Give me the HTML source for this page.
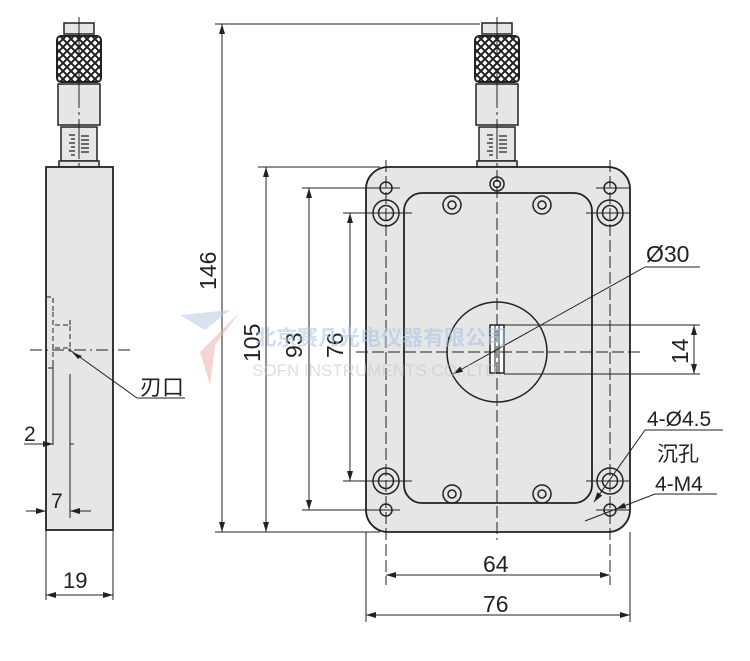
<!DOCTYPE html>
<html><head><meta charset="utf-8"><style>
html,body{margin:0;padding:0;background:#fff}
svg{display:block}
text{font-family:"Liberation Sans","Noto Sans CJK SC",sans-serif;fill:#222}
</style></head><body>
<svg width="750" height="661" viewBox="0 0 750 661" xmlns="http://www.w3.org/2000/svg">
<defs>
<pattern id="kn" width="8" height="8" patternUnits="userSpaceOnUse">
<rect width="8" height="8" fill="#fff"/>
<path d="M0 0L8 8M8 0L0 8" stroke="#222" stroke-width="2"/>
</pattern>
<marker id="a" viewBox="0 0 10 6" refX="10" refY="3" markerWidth="10" markerHeight="6" orient="auto-start-reverse" markerUnits="userSpaceOnUse"><path d="M0 0L10 3L0 6z" fill="#222"/></marker>
<g id="mic">
<rect x="-15" y="0" width="30" height="11" fill="#e6e6e6" stroke="#222" stroke-width="1.5"/>
<rect x="-22" y="13" width="44" height="46" rx="4" fill="url(#kn)" stroke="#222" stroke-width="2"/>
<rect x="-21" y="61" width="42" height="41" fill="#e6e6e6" stroke="#222" stroke-width="1.5"/>
<rect x="-18" y="104" width="36" height="34" fill="#e6e6e6" stroke="#222" stroke-width="1.5"/>
<path d="M-10 112h6M-8 116h4M-10 120h6M-8 124h4M-10 128h6M-8 132h4M2 113h8M2 117h8M2 121h8M2 125h8M2 129h8" stroke="#222" stroke-width="1.2"/>
<rect x="-20" y="138" width="40" height="6" fill="#e6e6e6" stroke="#222" stroke-width="1.5"/>
<line x1="0" y1="-6" x2="0" y2="150" stroke="#222" stroke-width="1" stroke-dasharray="40 4 3 4"/>
</g>
</defs>

<!-- left view -->
<use href="#mic" x="79" y="23"/>
<rect x="46" y="167" width="67" height="363" fill="#e6e6e6" stroke="#222" stroke-width="1.8"/>
<g stroke="#222" stroke-width="1" fill="none">
<path d="M46 297h7v15" stroke-dasharray="5 3"/>
<path d="M53 312v56h-7" stroke-dasharray="5 3"/>
<path d="M55 325h15v23h-15" stroke-dasharray="5 3"/>
<path d="M70 325v-5M70 348v4" />
<line x1="53" y1="360" x2="53" y2="445"/>
<line x1="70" y1="374" x2="70" y2="518"/>
<line x1="30" y1="350" x2="130" y2="350" stroke-dasharray="12 4 2 4"/>
<line x1="70" y1="350" x2="137" y2="398"/>
<line x1="137" y1="398" x2="185" y2="398"/>
<line x1="24" y1="444" x2="53" y2="444" marker-end="url(#a)"/>
<line x1="70" y1="444" x2="74" y2="444"/>
<line x1="26" y1="511" x2="46" y2="511" marker-end="url(#a)"/>
<line x1="70" y1="511" x2="91" y2="511" marker-start="url(#a)"/>
<line x1="46" y1="530" x2="46" y2="600"/>
<line x1="113" y1="530" x2="113" y2="600"/>
<line x1="46" y1="595" x2="113" y2="595" marker-start="url(#a)" marker-end="url(#a)"/>
</g>
<path d="M72 352l10 4l-4 3z" fill="#222"/>
<text x="140" y="395" font-size="22">刃口</text>
<text x="24" y="441" font-size="21">2</text>
<text x="51" y="508" font-size="21">7</text>
<text x="63" y="588" font-size="22">19</text>

<!-- vertical dims -->
<g stroke="#222" stroke-width="1" fill="none">
<line x1="215" y1="24" x2="480" y2="24"/>
<line x1="215" y1="532" x2="380" y2="532"/>
<line x1="222" y1="24" x2="222" y2="532" marker-start="url(#a)" marker-end="url(#a)"/>
<line x1="258" y1="167" x2="380" y2="167"/>
<line x1="266" y1="167" x2="266" y2="532" marker-start="url(#a)" marker-end="url(#a)"/>
<line x1="302" y1="188" x2="380" y2="188"/>
<line x1="302" y1="510" x2="380" y2="510"/>
<line x1="309" y1="188" x2="309" y2="510" marker-start="url(#a)" marker-end="url(#a)"/>
<line x1="343" y1="213" x2="375" y2="213"/>
<line x1="343" y1="481" x2="375" y2="481"/>
<line x1="350" y1="213" x2="350" y2="481" marker-start="url(#a)" marker-end="url(#a)"/>
</g>
<text transform="translate(216,290) rotate(-90)" font-size="23">146</text>
<text transform="translate(260,362) rotate(-90)" font-size="23">105</text>
<text transform="translate(302,358) rotate(-90)" font-size="23">93</text>
<text transform="translate(343,358) rotate(-90)" font-size="23">76</text>

<!-- right view -->
<use href="#mic" x="497" y="23"/>
<rect x="366" y="167" width="264" height="365" rx="22" fill="#e6e6e6" stroke="#222" stroke-width="1.8"/>
<rect x="404" y="193" width="188" height="310" rx="18" fill="#e6e6e6" stroke="#222" stroke-width="1.8"/>
<g stroke="#222" stroke-width="1.5" fill="none">
<circle cx="497" cy="184" r="7"/><circle cx="497" cy="184" r="3.5"/>
<circle cx="386" cy="188" r="6"/><circle cx="610" cy="188" r="6"/>
<circle cx="386" cy="510" r="6"/><circle cx="610" cy="510" r="6"/>
<circle cx="386" cy="213" r="13"/><circle cx="386" cy="213" r="7.5"/>
<circle cx="610" cy="213" r="13"/><circle cx="610" cy="213" r="7.5"/>
<circle cx="386" cy="481" r="13"/><circle cx="386" cy="481" r="7.5"/>
<circle cx="610" cy="481" r="13"/><circle cx="610" cy="481" r="7.5"/>
<circle cx="452" cy="205" r="9"/><circle cx="452" cy="205" r="4"/>
<circle cx="542" cy="205" r="9"/><circle cx="542" cy="205" r="4"/>
<circle cx="452" cy="494" r="9"/><circle cx="452" cy="494" r="4"/>
<circle cx="542" cy="494" r="9"/><circle cx="542" cy="494" r="4"/>
<circle cx="497" cy="352" r="50"/>
<rect x="490" y="325" width="14" height="48" fill="#fff"/>
<path d="M495 325v48M499 325v48" stroke-width="1"/>
</g>
<g stroke="#222" stroke-width="1" fill="none">
<line x1="497" y1="170" x2="497" y2="540" stroke-dasharray="12 4"/>
<line x1="386" y1="160" x2="386" y2="585" stroke-dasharray="12 4"/>
<line x1="610" y1="160" x2="610" y2="585" stroke-dasharray="12 4"/>
<line x1="356" y1="352" x2="640" y2="352" stroke-dasharray="12 4"/>
<line x1="366" y1="188" x2="400" y2="188"/><line x1="596" y1="188" x2="630" y2="188"/>
<line x1="366" y1="213" x2="412" y2="213"/><line x1="586" y1="213" x2="630" y2="213"/>
<line x1="366" y1="481" x2="412" y2="481"/><line x1="586" y1="481" x2="630" y2="481"/>
<line x1="366" y1="510" x2="400" y2="510"/><line x1="596" y1="510" x2="630" y2="510"/>
<line x1="504" y1="325" x2="700" y2="325"/>
<line x1="504" y1="374" x2="700" y2="374"/>
<line x1="694" y1="325" x2="694" y2="374" marker-start="url(#a)" marker-end="url(#a)"/>
<line x1="645" y1="267" x2="700" y2="267"/>
<line x1="645" y1="267" x2="541" y2="325"/>
<line x1="541" y1="325" x2="453" y2="374" marker-end="url(#a)"/>
<line x1="366" y1="532" x2="366" y2="622"/>
<line x1="630" y1="532" x2="630" y2="622"/>
<line x1="386" y1="575" x2="610" y2="575" marker-start="url(#a)" marker-end="url(#a)"/>
<line x1="366" y1="615" x2="630" y2="615" marker-start="url(#a)" marker-end="url(#a)"/>
<line x1="645" y1="430" x2="723" y2="430"/>
<line x1="645" y1="430" x2="594" y2="502" marker-end="url(#a)"/>
<line x1="655" y1="494" x2="717" y2="494"/>
<line x1="655" y1="494" x2="616" y2="509" marker-end="url(#a)"/>
<line x1="616" y1="509" x2="585" y2="521"/>
</g>
<text x="646" y="262" font-size="23">Ø30</text>
<text transform="translate(688,364) rotate(-90)" font-size="23">14</text>
<text x="647" y="426" font-size="21">4-Ø4.5</text>
<text x="657" y="461" font-size="21">沉孔</text>
<text x="655" y="491" font-size="21">4-M4</text>
<text x="483" y="572" font-size="23">64</text>
<text x="483" y="612" font-size="23">76</text>

<!-- watermark on top -->
<g opacity="0.55">
<text x="255" y="345" font-size="21" style="fill:#a9c3e6" font-weight="bold">北京赛凡光电仪器有限公司</text>
<text x="252" y="376" font-size="17" style="fill:#c4c4c4">SOFN INSTRUMENTS CO.,LTD.</text>
<path d="M180 315L230 310L205 330Z" fill="#b8cbe6"/>
<path d="M240 312L215 345L210 385L200 352Z" fill="#f0b0b0"/>
</g>
</svg>
</body></html>
